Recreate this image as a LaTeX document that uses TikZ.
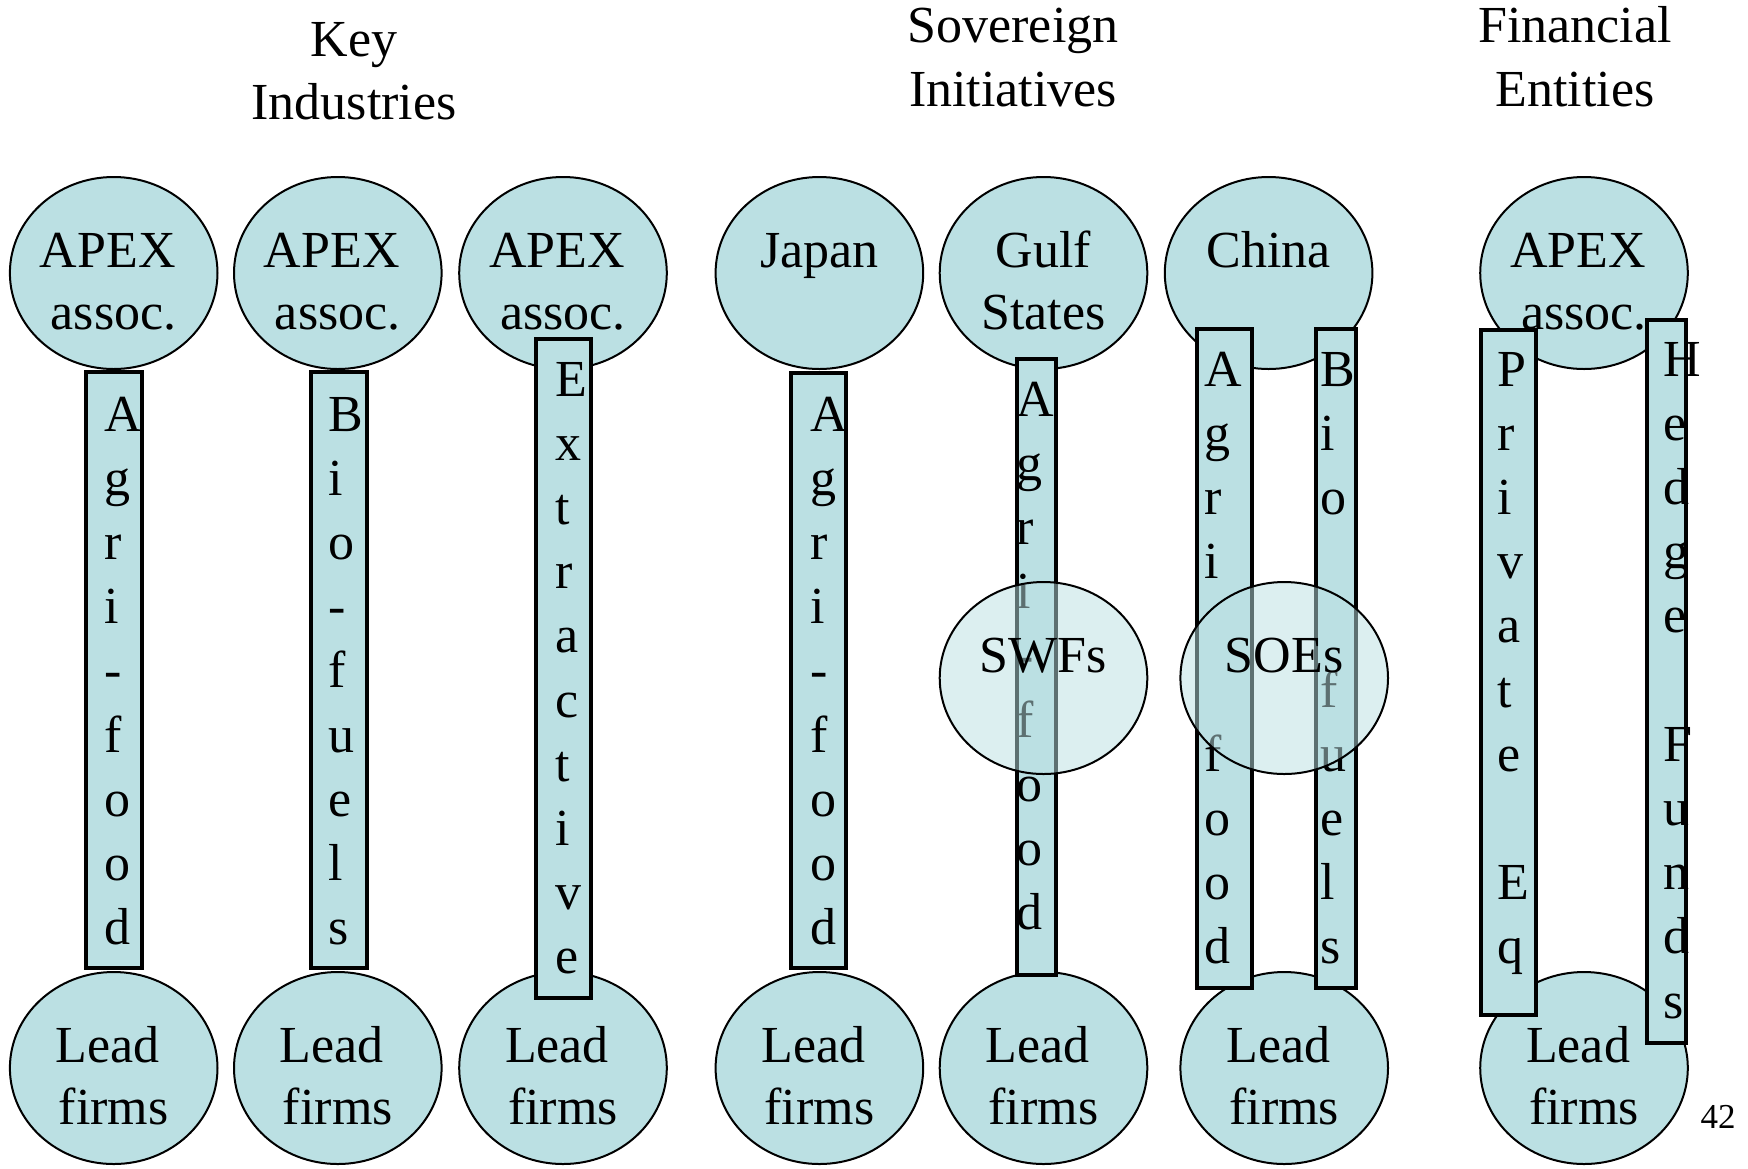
\documentclass[tikz,border=0pt]{standalone}
\usepackage{fontspec}
\setmainfont{Liberation Serif}
\usetikzlibrary{shapes.geometric,calc}
\definecolor{capfill}{RGB}{187,224,227}
% letters set one under another, first baseline is the box baseline
\newcommand\letterstack[1]{\vtop{\baselineskip=32.1pt\lineskiplimit=-100pt\lineskip=0pt%
  \foreach \ch in {#1}{\hbox{\ch}}}}
\begin{document}
\begin{tikzpicture}[x=0.5pt,y=-0.5pt,
  every node/.style={font=\fontsize{26}{31}\selectfont,inner sep=0pt,outer sep=0pt},
  oval/.style={ellipse,draw=black,line width=1pt,fill=capfill,
    minimum width=103.8pt,minimum height=96pt},
  glassoval/.style={oval,fill opacity=0.5},
  bar/.style={rectangle,draw=black,line width=2pt,fill=capfill},
  word/.style={anchor=base},
  stack/.style={anchor=base west},
  pagenum/.style={anchor=base,font=\fontsize{17.5}{20}\selectfont}]
\useasboundingbox (0,0) rectangle (1748,1168);
\fill[white] (0,0) rectangle (1748,1168);

% column headings
\node[word] (h1a) at (354,56) {Key};
\node[word] (h1b) at (354,119.3) {Industries};
\node[word] (h2a) at (1013,42.7) {Sovereign};
\node[word] (h2b) at (1013,106.7) {Initiatives};
\node[word] (h3a) at (1575,42.7) {Financial};
\node[word] (h3b) at (1575,106.7) {Entities};

% upper ovals
\node[oval] (k1top) at (113.7,273) {};
\node[oval] (k2top) at (337.8,273) {};
\node[oval] (k3top) at (563,273) {};
\node[oval] (jptop) at (819.4,273) {};
\node[oval] (gstop) at (1043.5,273) {};
\node[oval] (cntop) at (1268.6,273) {};
\node[oval] (fntop) at (1584,273) {};

\node[word] (k1ta) at ($(k1top)+(-6,-6)$) {APEX};
\node[word] (k1tb) at ($(k1top)+(0,56)$) {assoc.};
\node[word] (k2ta) at ($(k2top)+(-6,-6)$) {APEX};
\node[word] (k2tb) at ($(k2top)+(0,56)$) {assoc.};
\node[word] (k3ta) at ($(k3top)+(-6,-6)$) {APEX};
\node[word] (k3tb) at ($(k3top)+(0,56)$) {assoc.};
\node[word] (jpta) at ($(jptop)+(0,-6)$) {Japan};
\node[word] (gsta) at ($(gstop)+(0,-6)$) {Gulf};
\node[word] (gstb) at ($(gstop)+(0,56)$) {States};
\node[word] (cnta) at ($(cntop)+(0,-6)$) {China};
\node[word] (fnta) at ($(fntop)+(-6,-6)$) {APEX};
\node[word] (fntb) at ($(fntop)+(0,56)$) {assoc.};

% lower ovals
\node[oval] (k1bot) at (113.7,1068) {};
\node[oval] (k2bot) at (337.8,1068) {};
\node[oval] (k3bot) at (563,1068) {};
\node[oval] (jpbot) at (819.4,1068) {};
\node[oval] (gsbot) at (1043.5,1068) {};
\node[oval] (cnbot) at (1284.2,1068) {};
\node[oval] (fnbot) at (1584,1068) {};
\foreach \n in {k1bot,k2bot,k3bot,jpbot,gsbot,cnbot,fnbot}{
  \node[word] (\n a) at ($(\n)+(-6,-6)$) {Lead};
  \node[word] (\n b) at ($(\n)+(0,56)$) {firms};
}

% vertical bars
\node[bar,minimum width=28.1pt,minimum height=298pt] (agri1) at (113.7,670) {};
\node[bar,minimum width=28.1pt,minimum height=298pt] (bio1) at (338.9,670) {};
\node[bar,minimum width=27.5pt,minimum height=329.6pt] (extr) at (563.5,668.4) {};
\node[bar,minimum width=27.5pt,minimum height=297.5pt] (agrijp) at (818.5,670.5) {};
\node[bar,minimum width=19.75pt,minimum height=308pt] (agrigs) at (1036.3,666.7) {};
\node[bar,minimum width=27.5pt,minimum height=329.7pt] (agricn) at (1224.5,658.3) {};
\node[bar,minimum width=20pt,minimum height=329.7pt] (biocn) at (1336,658.3) {};
\node[bar,minimum width=27.7pt,minimum height=342.5pt] (priv) at (1508.7,672.6) {};
\node[bar,minimum width=19.3pt,minimum height=361.5pt] (hedge) at (1666.7,681.2) {};

\node[stack] (agri1t) at (104,431) {\letterstack{A,g,r,i,-,f,o,o,d}};
\node[stack] (bio1t) at (328,431) {\letterstack{B,i,o,-,f,u,e,l,s}};
\node[stack] (extrt) at (555,396) {\letterstack{E,x,t,r,a,c,t,i,v,e}};
\node[stack] (agrijpt) at (810.5,431) {\letterstack{A,g,r,i,-,f,o,o,d}};
\node[stack] (agrigst) at (1016.7,416) {\letterstack{A,g,r,i,-,f,o,o,d}};
\node[stack] (agricnt) at (1204,386) {\letterstack{A,g,r,i,{},{},f,o,o,d}};
\node[stack] (biocnt) at (1320,386) {\letterstack{B,i,o,{},{},f,u,e,l,s}};
\node[stack] (privt) at (1497,386) {\letterstack{P,r,i,v,a,t,e,{},E,q}};
\node[stack] (hedget) at (1663,376) {\letterstack{H,e,d,g,e,{},F,u,n,d,s}};

% translucent ovals laid over the bars
\node[glassoval] (swf) at (1043.5,678) {};
\node[word] (swft) at (1043.5,672) {SWFs};
\node[glassoval] (soe) at (1284.2,678) {};
\node[word] (soet) at (1284.2,672) {SOEs};

\node[pagenum] (pg) at (1718,1128) {42};
\end{tikzpicture}
\end{document}
